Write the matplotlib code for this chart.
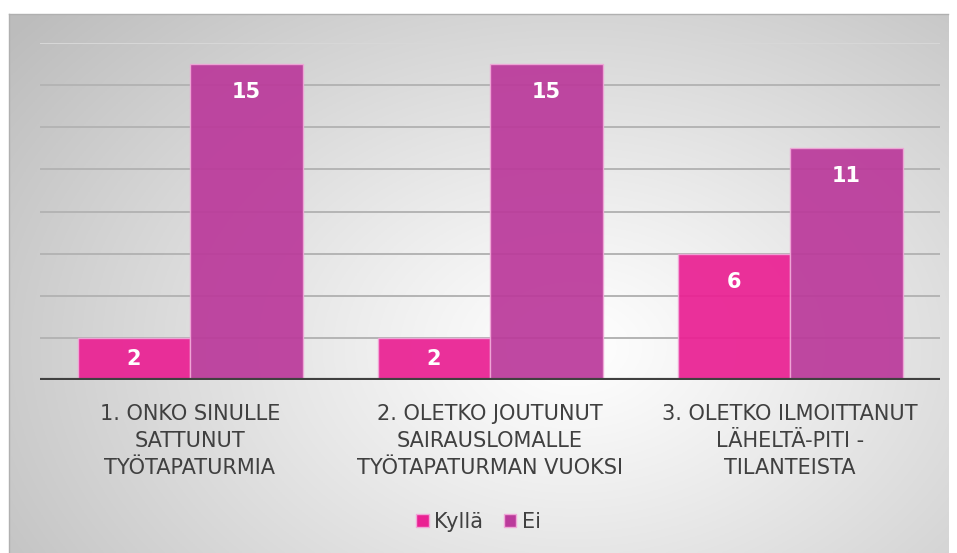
import matplotlib.pyplot as plt
import numpy as np
from matplotlib.patches import Patch

# Data
categories = ['1. ONKO SINULLE\nSATTUNUT\nTYÖTAPATURMIA',
              '2. OLETKO JOUTUNUT\nSAIRAUSLOMALLE\nTYÖTAPATURMAN VUOKSI',
              '3. OLETKO ILMOITTANUT\nLÄHELTÄ-PITI -\nTILANTEISTA']
kylla = [2, 2, 6]
ei = [15, 15, 11]
series_names = ['Kyllä', 'Ei']
colors = ['#EA2193', '#BB3A9B']

W, H = 957, 553
fig = plt.figure(figsize=(W / 100, H / 100), dpi=100)
fig.patch.set_facecolor('white')

# radial gradient background panel
bg = fig.add_axes([9 / W, 0, 939 / W, (H - 14) / H], zorder=-5)
yy, xx = np.mgrid[0:300, 0:500]
cx, cy = 300, 185
d = np.sqrt(((xx - cx) / 380) ** 2 + ((yy - cy) / 280) ** 2)
shade = 1.0 - 0.26 * np.clip(d, 0, 1) ** 1.1
bg.imshow(np.dstack([shade] * 3), aspect='auto', extent=[0, 1, 0, 1])
bg.set_axis_off()
fig.add_artist(plt.Line2D([9 / W, 948 / W], [1 - 14 / H, 1 - 14 / H], color='#b0b0b0', lw=1))
fig.add_artist(plt.Line2D([9 / W, 9 / W], [0, 1 - 14 / H], color='#b0b0b0', lw=1))

ax = fig.add_axes([40 / W, (H - 380) / H, 900 / W, 337 / H])
ax.patch.set_alpha(0)

x = np.arange(len(categories))
w = 0.375
ax.set_ylim(0, 16)
ax.set_xlim(-0.5, 2.5)
ax.set_yticks(np.arange(0, 17, 2))
ax.yaxis.grid(True, color='#b4b4b4', lw=1.4)
ax.get_ygridlines()[-1].set_color('#d8d8d8')
ax.set_axisbelow(True)

for i, (vals, col) in enumerate(zip([kylla, ei], colors)):
    bars = ax.bar(x + (i - 0.5) * w, vals, w, color=col, alpha=0.93,
                  edgecolor='#f0a8d8', linewidth=1, zorder=3)
    for b, v in zip(bars, vals):
        off = min(28, v * 21 / 2)
        ax.annotate(str(v), (b.get_x() + b.get_width() / 2, v),
                    xytext=(0, -off), textcoords='offset pixels',
                    ha='center', va='center', color='white',
                    fontsize=15, fontweight='bold', zorder=4)

ax.axhline(0, color='#404040', lw=3, zorder=5)
for s in ax.spines.values():
    s.set_visible(False)
ax.set_yticklabels([])
ax.tick_params(axis='y', length=0)
ax.set_xticks(x)
ax.set_xticklabels(categories, fontsize=15, color='#404040', linespacing=1.45)
ax.tick_params(axis='x', length=0, pad=17)

handles = [Patch(facecolor=c, edgecolor='#f0a8d8') for c in colors]
leg = fig.legend(handles, series_names, loc='center', bbox_to_anchor=(0.5, 1 - 522 / H),
                 ncol=2, frameon=False, fontsize=15, handlelength=0.6,
                 handleheight=0.6, handletextpad=0.25, columnspacing=1.0)
for t in leg.get_texts():
    t.set_color('#404040')

fig.savefig('out.png', dpi=100)
